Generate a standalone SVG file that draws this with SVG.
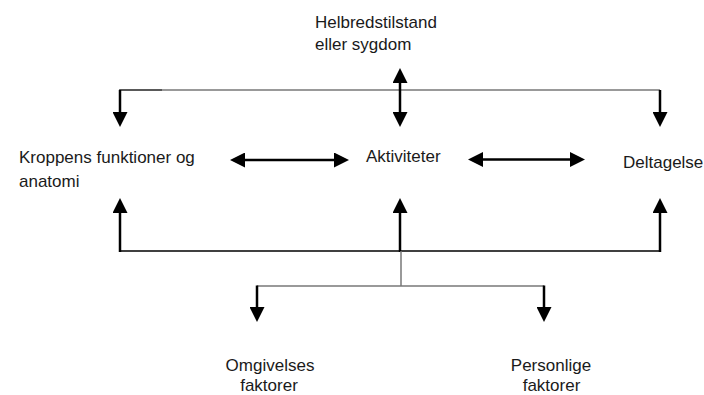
<svg xmlns="http://www.w3.org/2000/svg" width="704" height="395" viewBox="0 0 704 395">
<style>
  text { font-family: "Liberation Sans", Arial, sans-serif; font-size: 17px; fill: #1a1a1a; }
  .mid { text-anchor: middle; }
  .shaft { stroke: #000; stroke-width: 2.5; fill: none; }
  .thin { stroke: #000; stroke-width: 1.5; fill: none; }
  .grey { stroke: #777; stroke-width: 1.5; fill: none; }
</style>
<defs>
  <marker id="ah" viewBox="0 0 15 15" markerWidth="15" markerHeight="15" markerUnits="userSpaceOnUse" refX="1" refY="7.5" orient="auto-start-reverse">
    <path d="M0,0 L15,7.5 L0,15 z" fill="#000"/>
  </marker>
</defs>
<rect width="704" height="395" fill="#fff"/>
<g id="connectors">
  <path class="grey" d="M120,90 H660"/>
  <path d="M119,90 H162" stroke="#444" stroke-width="1.5" fill="none"/>
  <path class="shaft" d="M120,90 V113" marker-end="url(#ah)"/>
  <path class="shaft" d="M660,90 V113" marker-end="url(#ah)"/>
  <path class="shaft" d="M400,82 V113" marker-start="url(#ah)" marker-end="url(#ah)"/>
  <path class="shaft" d="M244,160 H335" marker-start="url(#ah)" marker-end="url(#ah)"/>
  <path class="shaft" d="M482,159.5 H571" marker-start="url(#ah)" marker-end="url(#ah)"/>
  <path class="thin" d="M120,251 H660"/>
  <path class="shaft" d="M120,252 V212" marker-end="url(#ah)"/>
  <path class="shaft" d="M400,252 V212" marker-end="url(#ah)"/>
  <path class="shaft" d="M660,252 V212" marker-end="url(#ah)"/>
  <path class="grey" d="M401,251 V286"/>
  <path class="grey" d="M257,286 H544"/>
  <path class="shaft" d="M257,285.5 V308" marker-end="url(#ah)"/>
  <path class="shaft" d="M544,285.5 V308" marker-end="url(#ah)"/>
</g>
<g id="helbred">
  <text x="315" y="27.5">Helbredstilstand</text>
  <text x="315" y="49.5">eller sygdom</text>
</g>
<g id="kroppens">
  <text x="19" y="163">Kroppens funktioner og</text>
  <text x="19" y="187">anatomi</text>
</g>
<g id="aktiviteter">
  <text x="366" y="162">Aktiviteter</text>
</g>
<g id="deltagelse">
  <text x="623" y="168">Deltagelse</text>
</g>
<g id="omgivelses">
  <text class="mid" x="270" y="370.5">Omgivelses</text>
  <text class="mid" x="269" y="390.5">faktorer</text>
</g>
<g id="personlige">
  <text class="mid" x="551" y="370.5">Personlige</text>
  <text class="mid" x="551.5" y="390.5">faktorer</text>
</g>
</svg>
